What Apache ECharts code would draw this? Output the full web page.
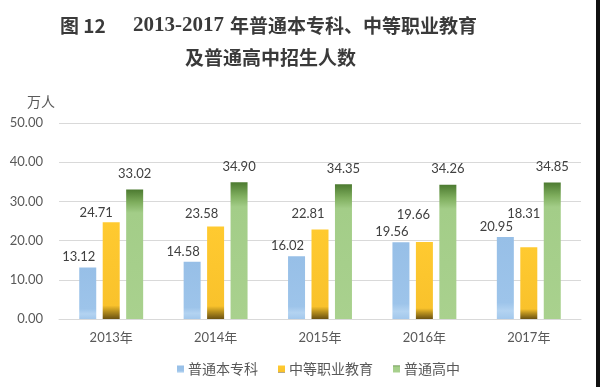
<!DOCTYPE html>
<html>
<head>
<meta charset="utf-8">
<script src="https://cdn.jsdelivr.net/npm/echarts@6/dist/echarts.min.js"></script>
<style>
html,body{margin:0;padding:0;background:#fff;}
#chart{width:600px;height:387px;}
</style>
</head>
<body>
<div id="chart"></div>
<script>
// ---- data ----
var categories = ['2013年', '2014年', '2015年', '2016年', '2017年'];
var seriesNames = ['普通本专科', '中等职业教育', '普通高中'];
var undergrad = [13.12, 14.58, 16.02, 19.56, 20.95];
var vocational = [24.71, 23.58, 22.81, 19.66, 18.31];
var highSchool = [33.02, 34.90, 34.35, 34.26, 34.85];
var yTicks = [0, 10, 20, 30, 40, 50];
var titleFig = '图 12';
var titleYears = '2013-2017';
var titleRest1 = '年普通本专科、中等职业教育';
var titleLine2 = '及普通高中招生人数';
var unitLabel = '万人';

// ---- label layout (manual label shifts as in the original) ----
var vocLabelShift = [[-15, 2], [-14, -1], [-12, -4], [-11, -16], [-5, -22]];

var chart = echarts.init(document.getElementById('chart'), null, {renderer: 'canvas'});
var labelFont = {fontSize: 13, color: '#404040', fontFamily: 'Lato, "Noto Sans", sans-serif'};
function fmt(p) { return p.value.toFixed(2); }

var blueGrad = new echarts.graphic.LinearGradient(0, 0, 0, 1, [
  {offset: 0, color: '#97bfe7'}, {offset: 0.8, color: '#9dc4ea'},
  {offset: 0.9, color: '#b3d3f1'}, {offset: 1, color: '#a3c8ec'}
]);
var yellowGrad = new echarts.graphic.LinearGradient(0, 0, 0, 1, [
  {offset: 0, color: '#ffca30'}, {offset: 0.86, color: '#f9c22c'},
  {offset: 0.92, color: '#b8901e'}, {offset: 1, color: '#6b5212'}
]);
var greenGrad = new echarts.graphic.LinearGradient(0, 0, 0, 1, [
  {offset: 0, color: '#4c7a30'}, {offset: 0.1, color: '#7fae5e'},
  {offset: 0.18, color: '#a3cd88'}, {offset: 1, color: '#a9d18e'}
]);

var titleStyle = {fontSize: 19, fontWeight: 'bold', fill: '#3a3a3a', fontFamily: '"Noto Sans CJK SC", serif'};
var digitStyle = {fontSize: 21, fontWeight: 'bold', fill: '#3a3a3a', fontFamily: '"Liberation Serif", "DejaVu Serif", serif'};

var option = {
  backgroundColor: '#ffffff',
  animation: false,
  color: ['#9dc3e6', '#ffc000', '#a9d18e'],
  grid: {left: 59, right: 19, top: 123, bottom: 68},
  legend: {
    left: 172, top: 357,
    itemWidth: 7, itemHeight: 7, itemGap: 20,
    icon: 'rect',
    textStyle: {fontSize: 14, color: '#595959', fontFamily: '"Noto Sans CJK SC", sans-serif', padding: [0, 0, 0, -1]},
    data: seriesNames
  },
  xAxis: {
    type: 'category',
    data: categories,
    axisLine: {lineStyle: {color: '#d9d9d9'}},
    axisTick: {show: false},
    axisLabel: {margin: 12, fontSize: 13, color: '#595959', fontFamily: 'Lato, "Noto Sans CJK SC", sans-serif'}
  },
  yAxis: {
    type: 'value',
    min: yTicks[0], max: yTicks[yTicks.length - 1], interval: yTicks[1] - yTicks[0],
    axisLine: {show: false},
    axisTick: {show: false},
    splitLine: {lineStyle: {color: '#d9d9d9'}},
    axisLabel: {margin: 16, fontSize: 13, color: '#595959', fontFamily: 'Lato, "Noto Sans", sans-serif',
      formatter: function (v) { return v.toFixed(2); }}
  },
  series: [
    {
      name: seriesNames[0], type: 'bar', data: undergrad,
      barWidth: 17, barGap: '38%',
      itemStyle: {color: blueGrad},
      label: Object.assign({show: true, position: 'top', offset: [-9, 1], formatter: fmt}, labelFont)
    },
    {
      name: seriesNames[1], type: 'bar',
      data: vocational.map(function (v, i) {
        return {value: v, label: {offset: vocLabelShift[i]}};
      }),
      barWidth: 17, barGap: '38%',
      itemStyle: {color: yellowGrad},
      label: Object.assign({show: true, position: 'top', formatter: fmt}, labelFont)
    },
    {
      name: seriesNames[2], type: 'bar', data: highSchool,
      barWidth: 17, barGap: '38%',
      itemStyle: {color: greenGrad},
      label: Object.assign({show: true, position: 'top', offset: [0, -4], formatter: fmt}, labelFont)
    }
  ],
  graphic: [
    {type: 'text', left: 60, top: 16, style: Object.assign({text: titleFig}, titleStyle)},
    {type: 'text', left: 133, top: 15, style: Object.assign({text: titleYears}, digitStyle)},
    {type: 'text', left: 230, top: 16, style: Object.assign({text: titleRest1}, titleStyle)},
    {type: 'text', left: 185, top: 48, style: Object.assign({text: titleLine2}, titleStyle)},
    {type: 'text', left: 27, top: 95, style: {text: unitLabel, fontSize: 14, fill: '#595959',
      fontFamily: '"Noto Sans CJK SC", sans-serif'}},
    {type: 'rect', right: 0, top: 0, shape: {width: 4, height: 387}, style: {fill: '#111111'}}
  ]
};
chart.setOption(option);
</script>
</body>
</html>
